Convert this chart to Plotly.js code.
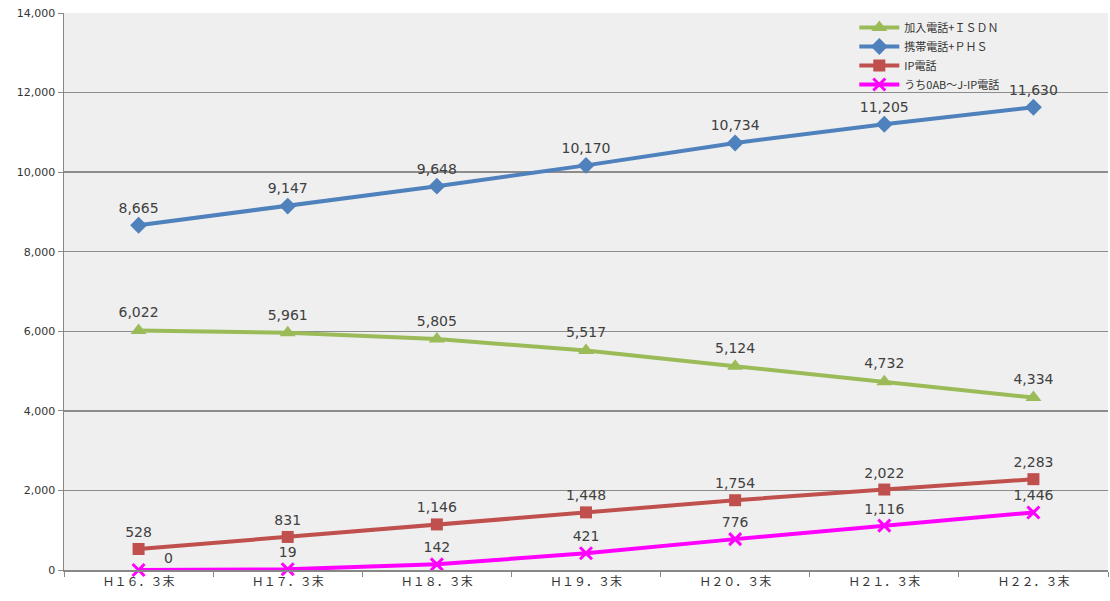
<!DOCTYPE html>
<html>
<head>
<meta charset="utf-8">
<script src="https://cdn.plot.ly/plotly-3.0.1.min.js"></script>
<style>html,body{margin:0;padding:0;background:#fff;}#chart{width:1110px;height:601px;}</style>
</head>
<body>
<div id="chart"></div>
<script>
const categories = ["Ｈ１６．３末","Ｈ１７．３末","Ｈ１８．３末","Ｈ１９．３末","Ｈ２０．３末","Ｈ２１．３末","Ｈ２２．３末"];
const fixedIsdn = [6022, 5961, 5805, 5517, 5124, 4732, 4334];
const mobilePhs = [8665, 9147, 9648, 10170, 10734, 11205, 11630];
const ipPhone = [528, 831, 1146, 1448, 1754, 2022, 2283];
const ip0ab = [0, 19, 142, 421, 776, 1116, 1446];
const seriesNames = ["加入電話+ＩＳＤＮ","携帯電話+ＰＨＳ","IP電話","うち0AB～J-IP電話"];

const labelFont = {family: "Verdana, 'DejaVu Sans', sans-serif", size: 14, color: "#404040"};
function mk(name, y, color, symbol, msize, tpos, tmpl) {
  return {
    type: "scatter", mode: "lines+markers+text", name: name,
    x: categories, y: y,
    line: {color: color, width: 4},
    marker: {color: color, symbol: symbol, size: msize, line: {color: color, width: symbol === "x-thin" ? 3 : 0}},
    texttemplate: tmpl || "%{y:,}", textposition: tpos, textfont: labelFont,
    cliponaxis: false, hoverinfo: "skip"
  };
}
const magentaTmpl = ip0ab.map((v, i) => i === 0 ? "" : "%{y:,}");
const traces = [
  mk(seriesNames[0], fixedIsdn, "#9BBB59", "triangle-up", 14, "top center"),
  mk(seriesNames[1], mobilePhs, "#4F81BD", "diamond", 13, "top center"),
  mk(seriesNames[2], ipPhone, "#C0504D", "square", 12, "top center"),
  mk(seriesNames[3], ip0ab, "#FF00FF", "x-thin", 12, "top center", magentaTmpl)
];

const layout = {
  width: 1110, height: 601,
  margin: {l: 64, r: 2, t: 13, b: 31},
  paper_bgcolor: "#ffffff",
  plot_bgcolor: "#efefef",
  showlegend: true,
  legend: {x: 0.757, y: 1.0, xanchor: "left", yanchor: "top", bgcolor: "rgba(0,0,0,0)",
    font: {family: "'Noto Sans CJK JP', sans-serif", size: 11, color: "#333"}, tracegroupgap: 0, itemwidth: 40},
  annotations: [{
    x: categories[0], y: ip0ab[0], xref: "x", yref: "y",
    text: String(ip0ab[0]), showarrow: false, font: labelFont,
    xshift: 30, yshift: 12
  }],
  xaxis: {
    type: "category", range: [-0.5, 6.5], showgrid: false, zeroline: false,
    showline: true, linecolor: "#888", linewidth: 1.5,
    ticks: "outside", ticklen: 5, tickcolor: "#888", tickson: "boundaries",
    tickfont: {family: "'Noto Sans CJK JP', sans-serif", size: 12, color: "#333"},
    fixedrange: true
  },
  yaxis: {
    range: [0, 14000], dtick: 2000, tickformat: ",d",
    showgrid: true, gridcolor: "#8c8c8c", gridwidth: 1.5, zeroline: false,
    showline: true, linecolor: "#888", linewidth: 1.5,
    ticks: "outside", ticklen: 5, tickcolor: "#888",
    tickfont: {family: "Verdana, 'DejaVu Sans', sans-serif", size: 11, color: "#333"},
    fixedrange: true
  }
};
Plotly.newPlot("chart", traces, layout, {displayModeBar: false, staticPlot: true});
</script>
</body>
</html>
